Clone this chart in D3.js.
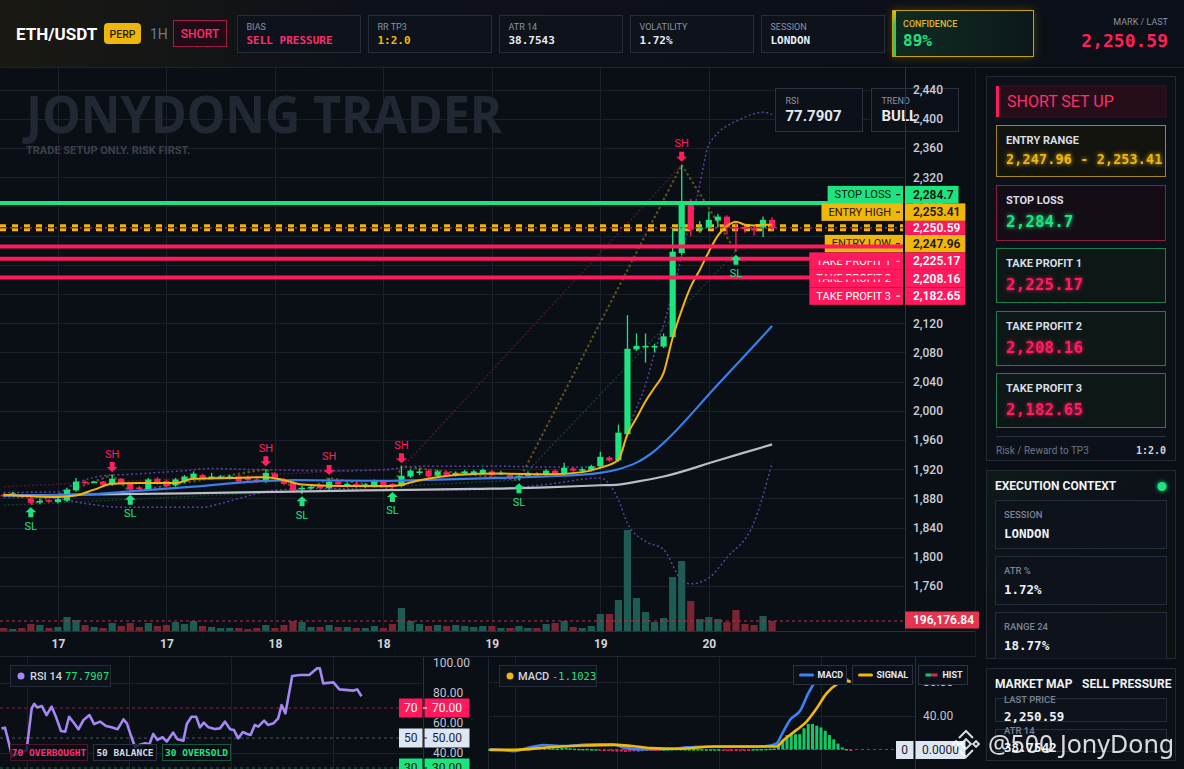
<!DOCTYPE html>
<html>
<head>
<meta charset="utf-8">
<script src="https://cdn.jsdelivr.net/npm/d3@7"></script>
<style>
html,body{margin:0;padding:0;background:#0a0e15;overflow:hidden}
svg{display:block;font-family:Roboto,"Noto Sans",sans-serif}
</style>
</head>
<body>
<svg id="chart" width="1184" height="769"></svg>
<script>
// ---------- data ----------
const opens  = [1885,1886,1884,1880,1875,1877.5,1875,1877,1891,1903, 1902,1903,1899,1907,1900,1895,1892,1907,1904,1898,
                1903,1908,1912,1908,1909,1908,1910,1909,1906,1903, 1914,1906,1901,1894,1894,1897,1894,1903,1897,1900,
                1896,1897,1903,1900,1897,1910,1916,1918,1911,1916, 1912,1914,1914,1914,1917,1914,1912,1908,1911,1914,
                1912,1918,1914,1921,1918,1919,1924,1936,1932,1968, 2084,2088,2088,2088,2101,2216,2287,2248,2251,2260.7,
                2266,2251,2252,2250,2251,2261.6];
const closes = [1884,1887,1883,1874,1876.5,1876.5,1879,1892,1903,1901, 1903,1898.5,1907,1900,1892,1893,1906,1901,1897,1906,
                1910,1914,1908,1910,1910,1910,1903,1905,1903,1915, 1908,1900,1891,1894.5,1896,1894,1903,1899,1900,1896,
                1899,1904,1897,1897,1911,1918,1917,1910,1917,1912, 1915,1917,1917,1919,1912,1915,1909,1911,1915,1911,
                1918,1914,1922,1918,1920,1924,1937,1932,1970,2085, 2089,2089,2089,2102,2218,2284,2248,2251,2261.6,2266,
                2251,2249,2249,2247,2261.6,2250.59];
const highs  = [1887,1889,1886,1882,1880,1879,1881,1894,1908,1905, 1904,1904,1912,1908,1901,1897,1908,1909,1906,1908,
                1912,1917,1914,1915,1912,1912,1912,1911,1908,1920, 1916,1908,1903,1897,1898,1899,1908,1905,1902,1902,
                1901,1906,1905,1901,1924,1920,1921,1920,1919,1918, 1917,1919,1919,1921,1919,1918,1914,1913,1917,1916,
                1920,1920,1929,1923,1922,1926,1944,1938,1981,2131, 2106,2106,2092,2106,2248,2337,2290,2260,2273,2270,
                2268,2259,2256,2253,2266,2265];
const lows   = [1882,1884,1881,1872,1872,1874,1873,1875,1889,1899, 1901,1897,1897,1899,1889,1891,1890,1899,1895,1896,
                1901,1906,1906,1906,1907,1906,1902,1903,1901,1901, 1906,1898,1888,1887,1892,1892,1892,1897,1895,1894,
                1894,1895,1895,1893,1895,1908,1912,1908,1909,1910, 1910,1912,1912,1912,1910,1912,1907,1905,1909,1909,
                1910,1912,1912,1916,1916,1917,1922,1930,1930,1966, 2082,2066,2080,2086,2099,2213,2239,2244,2248,2251,
                2242,2218,2244,2240,2238,2247];
const volumeK = [59,39,59,137,118,59,78,274,216,118, 78,59,157,98,157,78,157,98,118,176,
                 137,196,98,78,59,59,59,39,59,118, 59,118,196,176,78,78,118,78,78,59,
                 59,98,59,137,451,196,137,98,118,98, 118,98,78,98,98,59,59,98,59,59,
                 137,157,196,78,59,98,333,333,608,1980, 647,372,176,255,1058,1372,588,235,274,235,
                 176,412,137,118,294,196];
const volumeMA = 196.17684;

const emaFast = [[0,1885],[6,1882],[8,1884],[10,1892],[12,1900],[15,1901],[19,1901],[21,1907],[25,1908],[29,1909],
                 [31,1905],[33,1899],[37,1897],[40,1897],[43,1897],[46,1905],[50,1912],[55,1914],[60,1913],[64,1916],
                 [66,1922],[67,1926],[68,1933],[69,1968],[70,1990],[71,2013],[72,2032],[73,2052],[74,2100],[75,2138],
                 [76,2170],[77,2193],[78,2218],[79,2240],[80,2253],[81,2259],[82,2255],[83,2254],[84,2255],[85,2255]];
const emaMid  = [[0,1884],[7,1885],[10,1886],[14,1889.5],[21,1896],[29,1904],[32,1905],[42,1904],[46,1905],[55,1908],
                 [60,1910],[66,1915],[68,1920],[70,1929],[71,1936],[72,1945],[73,1956],[79,2036],[85,2116]];
const emaSlow = [[0,1884],[20,1887],[40,1891],[52,1893],[60,1895],[66,1898],[68,1899],[70,1903],[73,1910],[79,1932],[85,1954]];
const bandUpper = [[0,1888],[6,1889],[8,1901],[11,1911],[14,1913],[20,1918],[23,1921],[26,1920],[30,1919],[34,1918],
                   [38,1918],[42,1919],[44,1922],[46,1924],[55,1924],[60,1923],[66,1923],[68,1933],[69.5,1988],[71,2036],
                   [72.2,2088],[73.1,2122],[74.8,2202],[75.7,2248],[76.7,2293],[78.1,2367],[81.8,2401],[84,2409],[85,2406]];
const bandLower = [[0,1882],[6,1880],[9,1873],[13,1868],[22,1868],[24,1873],[26,1880],[30,1891],[35,1894],[40,1892],
                   [44,1892],[52,1892],[60,1899],[66,1908],[68,1878],[69,1846],[71,1821],[73,1810],[75,1768],[76,1763],
                   [78,1771],[80,1799],[83,1847],[85,1929]];
const trendHigh = [[0,1896],[44,1921],[75,2337]];
const trendLow  = [[0,1871],[3,1872],[57,1905],[81,2218]];

const swingHighIdx = [12, 29, 36, 44, 75];
const swingLowIdx  = [3, 14, 33, 43, 57, 81];

const priceTicks = d3.range(1760, 2441, 40);
const timeTickIdx = [6, 18, 30, 42, 54, 66, 78];
const timeTickLabels = ["17", "17", "18", "18", "19", "19", "20"];

const levelNames  = ["STOP LOSS", "ENTRY HIGH", "ENTRY LOW", "TAKE PROFIT 1", "TAKE PROFIT 2", "TAKE PROFIT 3"];
const levelPrices = [2284.7, 2253.41, 2247.96, 2225.17, 2208.16, 2182.65];
const levelKinds  = ["sl", "entry", "entry", "tp", "tp", "tp"];
const lastPrice = 2250.59;

const rsiPoints = [[0,56.4],[0.8,56.9],[1.4,50.5],[2.5,37.6],[3.6,39.1],[4.7,40.9],[5.9,41.6],[7.1,69.8],[7.7,72.7],[8.4,70.4],
  [9.5,71.3],[10.6,65.3],[11.8,70.9],[12.8,64.2],[14,54.7],[15,54.2],[15.9,64.2],[17.1,59.8],[18.1,55.8],[19.3,62],
  [20.7,65.3],[21.8,59.3],[23.2,60.9],[24.6,58],[25.9,57.1],[27.3,55.8],[28.7,62.4],[29.5,59.8],[30.5,51.3],[31.4,44.2],
  [32.4,45.3],[33.8,46.5],[34.8,45.8],[35.7,52.7],[36.7,48.7],[37.9,50.5],[38.9,47.6],[40.4,53.6],[41.4,49.1],[42.8,48.2],
  [43.6,59.3],[44.7,64.2],[45.8,64.2],[46.7,57.1],[47.6,60.2],[48.7,57.1],[50.2,56],[51.4,56.4],[52.6,60.9],[53.8,55.8],
  [54.7,55.3],[55.7,49.8],[56.8,54],[57.8,52.7],[58.6,52],[59.6,58.7],[60.4,57.6],[61.8,61.6],[62.7,58.7],[64,59.8],
  [65.1,63.1],[65.9,72],[66.8,66.4],[68.4,91.3],[70.2,92],[72.4,92],[74.2,96.4],[74.9,96.4],[75.7,86.4],[78.1,87.1],
  [79.5,82.4],[82.8,81.6],[83.7,82.4],[84.7,77.8]];
const rsiTicks = [100, 80, 60, 40];

const macdLine = [[0,0.2],[3,-0.5],[5.6,-2],[9.5,2.5],[12.7,5.3],[17.4,4.1],[21.3,5.3],[25.2,6],[29.1,6],[31.5,2.5],
  [35.4,0.2],[39.3,0.5],[43.3,0.8],[46.4,2.5],[49.5,3.3],[54.2,3.3],[60.5,3.3],[65.2,4.1],[67.6,7.2],[68.7,17],
  [70.7,34.7],[73.2,46.5],[75,66],[77,81.8],[79.3,87.6],[82.5,86.5],[84.8,79.8]];
const macdSignal = [[0,-0.4],[6,-0.4],[14,2.7],[22,4.7],[30,5.5],[38,1.6],[44,0.8],[53,3.5],[67.6,3.5],[69.1,10.6],
  [72.3,23.1],[74.6,32.9],[77,48.6],[79.3,66.1],[81.7,76.7],[84,80.6],[85,79.8]];
const macdHist = [0.4,0.2,-0.8,-1.5,-1.8,-1.6,-1.2,-0.6,0.3,0.8, 1.2,1.6,2.0,2.2,1.8,1.5,1.2,1.6,2.0,1.4,
  1.0,0.8,0.6,0.8,0.5,0.3,-0.6,-1.2,-1.8,-2.2, -2.6,-2.4,-2.8,-2.5,-2.2,-2.6,-2.0,-1.6,-1.2,-0.8,
  -0.3,0.2,0.4,0.6,0.8,0.6,0.5,0.4,0.3,0.4, 0.3,0.2,0.3,0.2,0.1,-0.2,-0.8,-1.2,-0.9,-0.6,
  -0.4,-0.2,0.3,0.5,0.6,0.8,1.0,1.2,7,11, 17,19,18,18,25,30,30,28,26,22, 17,12,7,2.5,0.6,-0.5];
const macdTicks = [80, 40];

const statLabels = ["BIAS", "RR TP3", "ATR 14", "VOLATILITY", "SESSION"];
const statValues = ["SELL PRESSURE", "1:2.0", "38.7543", "1.72%", "LONDON"];
const execLabels = ["SESSION", "ATR %", "RANGE 24"];
const execValues = ["LONDON", "1.72%", "18.77%"];

// ---------- setup ----------
const MONO = '"DejaVu Sans Mono","Liberation Mono",monospace';
const UP = "#1ee47f", DN = "#ff1f5e", GOLD = "#efb70c", PINK = "#ff1a5e";
const fmt2 = d3.format(",.2f");

const svg = d3.select("#chart");
const defs = svg.append("defs");

function addGlow(id, sd) {
  const f = defs.append("filter").attr("id", id)
    .attr("x", "-50%").attr("y", "-50%").attr("width", "200%").attr("height", "200%");
  f.append("feGaussianBlur").attr("in", "SourceGraphic").attr("stdDeviation", sd).attr("result", "b");
  const m = f.append("feMerge");
  m.append("feMergeNode").attr("in", "b");
  m.append("feMergeNode").attr("in", "SourceGraphic");
}
addGlow("glow", 2.2);
defs.append("filter").attr("id", "blur6").attr("x", "-30%").attr("y", "-50%").attr("width", "160%").attr("height", "200%")
  .append("feGaussianBlur").attr("stdDeviation", 5);

function box(g, x, y, w, h, fill, stroke, rx) {
  return g.append("rect").attr("x", x).attr("y", y).attr("width", w).attr("height", h)
    .attr("rx", rx || 0).attr("fill", fill).attr("stroke", stroke || "none");
}
function txt(g, x, y, s, o) {
  o = o || {};
  return g.append("text").attr("x", x).attr("y", y)
    .attr("dominant-baseline", "central")
    .attr("text-anchor", o.anchor || "start")
    .attr("font-size", o.size || 11)
    .attr("font-weight", o.weight || 400)
    .attr("font-family", o.mono ? MONO : null)
    .attr("fill", o.color || "#e6eaf0")
    .text(s);
}

svg.append("rect").attr("width", 1184).attr("height", 769).attr("fill", "#0a0e15");

// ---------- header ----------
const hg = defs.append("linearGradient").attr("id", "hdr");
hg.append("stop").attr("offset", 0).attr("stop-color", "#1a1912");
hg.append("stop").attr("offset", 0.3).attr("stop-color", "#0e1119");
hg.append("stop").attr("offset", 1).attr("stop-color", "#0b0f17");
const head = svg.append("g");
head.append("rect").attr("width", 1184).attr("height", 67).attr("fill", "url(#hdr)");

txt(head, 16, 34, "ETH/USDT", {size: 17, weight: 700, color: "#ffffff"});
box(head, 104, 23, 37, 21, GOLD, null, 4);
txt(head, 122.5, 34, "PERP", {size: 10.5, weight: 500, color: "#2a1f00", anchor: "middle"});
txt(head, 150, 34, "1H", {size: 14, color: "#6c7b92"});
box(head, 173.5, 20.5, 53, 26, "#1f0c17", "#a01d48");
txt(head, 200, 34, "SHORT", {size: 12, weight: 500, color: "#ff2d6f", anchor: "middle"});

statLabels.forEach((lab, i) => {
  const bx = 237.5 + i * 131;
  box(head, bx, 15.5, 123, 37, "#0d121b", "#262d3a");
  txt(head, bx + 9, 26.5, lab, {size: 9, color: "#8a93a6"});
  const c = i === 0 ? "#ff2d6f" : (i === 1 ? GOLD : "#e8ecf2");
  txt(head, bx + 9, 40.5, statValues[i], {size: 11, weight: 700, mono: true, color: c});
});

// confidence card
box(head, 892, 10, 142, 47, "#b8940e", null).attr("opacity", 0.35).attr("filter", "url(#blur6)");
const cg = defs.append("linearGradient").attr("id", "confFill").attr("x1", 0).attr("x2", 1);
cg.append("stop").attr("offset", 0).attr("stop-color", "#0f2c22");
cg.append("stop").attr("offset", 1).attr("stop-color", "#0c181b");
box(head, 892.5, 10.5, 141, 46, "url(#confFill)", "#c9a10f");
const cb = defs.append("linearGradient").attr("id", "confBar").attr("x1", 0).attr("x2", 0).attr("y1", 0).attr("y2", 1);
cb.append("stop").attr("offset", 0).attr("stop-color", GOLD);
cb.append("stop").attr("offset", 0.3).attr("stop-color", "#1ed070");
cb.append("stop").attr("offset", 1).attr("stop-color", "#1ed070");
box(head, 893, 11, 3, 45, "url(#confBar)");
txt(head, 903, 23.5, "CONFIDENCE", {size: 9, weight: 500, color: "#e3b72a"});
txt(head, 903, 40, "89%", {size: 16, weight: 700, mono: true, color: UP});

txt(head, 1168, 22, "MARK / LAST", {size: 9, color: "#8a93a6", anchor: "end"});
txt(head, 1168, 40, fmt2(lastPrice), {size: 18, weight: 700, mono: true, color: "#ff1f5a", anchor: "end"});

svg.append("line").attr("x1", 0).attr("x2", 1184).attr("y1", 67.5).attr("y2", 67.5).attr("stroke", "#1d2431");

// ---------- main price chart ----------
const x = d3.scaleLinear().domain([0, 85]).range([3.7, 772.1]);
const y = d3.scaleLinear().domain([1760, 2440]).range([586, 89.6]);
const vol = d3.scaleLinear().domain([0, 2000]).range([631, 529]);

defs.append("clipPath").attr("id", "plotClip")
  .append("rect").attr("x", 0).attr("y", 68).attr("width", 905).attr("height", 563);

const main = svg.append("g");
const plot = main.append("g").attr("clip-path", "url(#plotClip)");

plot.append("g").selectAll("line").data(priceTicks).join("line")
  .attr("x1", 0).attr("x2", 905)
  .attr("y1", d => Math.round(y(d)) + 0.5).attr("y2", d => Math.round(y(d)) + 0.5)
  .attr("stroke", "#1a202c");
plot.append("g").selectAll("line").data(timeTickIdx).join("line")
  .attr("x1", d => Math.round(x(d)) + 0.5).attr("x2", d => Math.round(x(d)) + 0.5)
  .attr("y1", 67).attr("y2", 632)
  .attr("stroke", "#1a202c");

plot.append("text").attr("x", 26).attr("y", 133)
  .attr("font-size", 52).attr("font-weight", 700).attr("font-family", '"Noto Sans",Roboto,sans-serif')
  .attr("fill", "#222833").attr("textLength", 476).attr("lengthAdjust", "spacingAndGlyphs")
  .text("JONYDONG TRADER");
txt(plot, 26, 150, "TRADE SETUP ONLY. RISK FIRST.", {size: 11, weight: 700, color: "#3a414d"});
txt(plot, 425, 632, "FALLEN ANGEL", {size: 13, weight: 700, color: "#272d38"}).attr("letter-spacing", 2.2);

const candles = d3.range(opens.length).map(i => ({
  i, o: opens[i], c: closes[i], h: highs[i], l: lows[i], v: volumeK[i], up: closes[i] >= opens[i]
}));

// volume
plot.append("g").selectAll("rect").data(candles).join("rect")
  .attr("x", d => x(d.i) - 3.6).attr("width", 7.2)
  .attr("y", d => vol(d.v)).attr("height", d => 631 - vol(d.v))
  .attr("fill", d => d.up ? "#1e5b52" : "#7a2632");
plot.append("line").attr("x1", 0).attr("x2", 905)
  .attr("y1", vol(volumeMA)).attr("y2", vol(volumeMA))
  .attr("stroke", "#c0304a").attr("stroke-dasharray", "3,3");

// dotted helper lines
const lineLin = d3.line().x(d => x(d[0])).y(d => y(d[1]));
const lineSmooth = d3.line().x(d => x(d[0])).y(d => y(d[1])).curve(d3.curveMonotoneX);
const swings = swingHighIdx.map(i => [i, highs[i]]).concat(swingLowIdx.map(i => [i, lows[i]]))
  .sort((a, b) => a[0] - b[0]);

plot.append("path").attr("d", lineLin(trendHigh)).attr("fill", "none")
  .attr("stroke", "#4d1a2c").attr("stroke-width", 1.4).attr("stroke-dasharray", "2,2");
plot.append("path").attr("d", lineLin(trendLow)).attr("fill", "none")
  .attr("stroke", "#173f2c").attr("stroke-width", 1.4).attr("stroke-dasharray", "2,2");
plot.append("path").attr("d", lineLin(swings)).attr("fill", "none")
  .attr("stroke", "#5e4f1d").attr("stroke-width", 2.2).attr("stroke-dasharray", "2.5,2.5");
[bandUpper, bandLower].forEach(b => {
  plot.append("path").attr("d", lineSmooth(b)).attr("fill", "none")
    .attr("stroke", "#5644a3").attr("stroke-width", 1.5).attr("stroke-dasharray", "2,2.5");
});

// entry band (dashed gold)
[levelPrices[1], levelPrices[2]].forEach(p => {
  plot.append("line").attr("x1", 0).attr("x2", 903).attr("y1", y(p)).attr("y2", y(p))
    .attr("stroke", GOLD).attr("stroke-width", 3).attr("stroke-dasharray", "6,6");
});

// candles
plot.append("g").selectAll("line").data(candles).join("line")
  .attr("x1", d => x(d.i)).attr("x2", d => x(d.i))
  .attr("y1", d => y(d.h)).attr("y2", d => y(d.l))
  .attr("stroke", d => d.up ? UP : DN).attr("stroke-width", 1.3);
plot.append("g").selectAll("rect").data(candles).join("rect")
  .attr("x", d => x(d.i) - 3.1).attr("width", 6.2)
  .attr("y", d => y(Math.max(d.o, d.c)))
  .attr("height", d => Math.max(1.6, Math.abs(y(d.o) - y(d.c))))
  .attr("fill", d => d.up ? UP : DN);

// moving averages
plot.append("path").attr("d", lineSmooth(emaSlow)).attr("fill", "none").attr("stroke", "#b9bdc6").attr("stroke-width", 2.2);
plot.append("path").attr("d", lineSmooth(emaMid)).attr("fill", "none").attr("stroke", "#3a80ec").attr("stroke-width", 2.2);
plot.append("path").attr("d", lineSmooth(emaFast)).attr("fill", "none").attr("stroke", "#f2b50c").attr("stroke-width", 2);

// stop loss line
plot.append("line").attr("x1", 0).attr("x2", 903).attr("y1", y(levelPrices[0])).attr("y2", y(levelPrices[0]))
  .attr("stroke", UP).attr("stroke-width", 4);

// stacked level labels
const kindStyle = {
  sl: {fill: UP, text: "#04140b"},
  entry: {fill: GOLD, text: "#1c1500"},
  tp: {fill: PINK, text: "#ffffff"}
};
const levels = levelNames.map((n, i) => ({name: n, price: levelPrices[i], kind: levelKinds[i]}));
const LH = 17.5, LASTH = 14, lastY = y(lastPrice);
let prevY = lastY, prevH = LASTH;
levels.filter(d => d.price > lastPrice).sort((a, b) => a.price - b.price).forEach(d => {
  d.ly = Math.min(y(d.price), prevY - (prevH + LH) / 2); prevY = d.ly; prevH = LH;
});
prevY = lastY; prevH = LASTH;
levels.filter(d => d.price < lastPrice).sort((a, b) => b.price - a.price).forEach(d => {
  d.ly = Math.max(y(d.price), prevY + (prevH + LH) / 2); prevY = d.ly; prevH = LH;
});

const labG = main.append("g");
levels.forEach(d => {
  const st = kindStyle[d.kind];
  const r = box(labG, 0, d.ly - LH / 2, 0, LH, st.fill);
  const t = txt(labG, 891, d.ly, d.name, {size: 11, color: st.text, anchor: "end"});
  const w = t.node().getComputedTextLength();
  r.attr("x", 891 - w - 7).attr("width", w + 19);
  labG.append("line").attr("x1", 896).attr("x2", 900).attr("y1", d.ly).attr("y2", d.ly)
    .attr("stroke", st.text).attr("stroke-width", 1.2);
});

// take-profit lines drawn over the labels
levels.filter(d => d.kind === "tp").forEach(d => {
  main.append("line").attr("x1", 0).attr("x2", 903).attr("y1", y(d.price)).attr("y2", y(d.price))
    .attr("stroke", PINK).attr("stroke-width", 4);
});
main.append("line").attr("x1", 0).attr("x2", 903).attr("y1", lastY).attr("y2", lastY)
  .attr("stroke", PINK).attr("stroke-width", 1.3).attr("stroke-dasharray", "2,3");

// swing markers
const mk = main.append("g");
swingHighIdx.forEach(i => {
  const cx = x(i), ty = y(highs[i]) - 3;
  mk.append("path")
    .attr("d", `M${cx - 2.5},${ty - 10}h5v5h3L${cx},${ty}L${cx - 5.5},${ty - 5}h3Z`)
    .attr("fill", DN);
  txt(mk, cx, ty - 18, "SH", {size: 11, color: DN, anchor: "middle"});
});
swingLowIdx.forEach(i => {
  const cx = x(i), ty = y(lows[i]) + 3;
  mk.append("path")
    .attr("d", `M${cx - 2.5},${ty + 10}h5v-5h3L${cx},${ty}L${cx - 5.5},${ty + 5}h3Z`)
    .attr("fill", UP);
  txt(mk, cx, ty + 19, "SL", {size: 11, color: UP, anchor: "middle"});
});

// RSI / TREND overlay cards
[["RSI", "77.7907", 775.5], ["TREND", "BULL", 871.5]].forEach(([l, v, bx]) => {
  box(main, bx, 88.5, 87, 43, "#0b1019", "#2a3140");
  txt(main, bx + 10, 100.5, l, {size: 9, color: "#8a93a6"});
  txt(main, bx + 10, 116, v, {size: 15, weight: 700, color: "#e6eaf0"});
});

// axes
main.append("line").attr("x1", 905.5).attr("x2", 905.5).attr("y1", 67).attr("y2", 632).attr("stroke", "#283040");
main.append("line").attr("x1", 975.5).attr("x2", 975.5).attr("y1", 67).attr("y2", 656).attr("stroke", "#161c27");
main.append("line").attr("x1", 0).attr("x2", 975).attr("y1", 631.5).attr("y2", 631.5).attr("stroke", "#283040");

const yAxis = d3.axisRight(y).tickValues(priceTicks).tickFormat(d3.format(",")).tickSize(0).tickPadding(8);
main.append("g").attr("transform", "translate(905,0)").call(yAxis)
  .call(g => g.select(".domain").remove())
  .call(g => g.selectAll("text").attr("fill", "#c9ced8").attr("font-size", 12)
    .attr("font-family", "Roboto,sans-serif").attr("font-weight", 500));

const xAxis = d3.axisBottom(x).tickValues(timeTickIdx).tickFormat((d, i) => timeTickLabels[i]).tickSize(0).tickPadding(7);
main.append("g").attr("transform", "translate(0,632)").call(xAxis)
  .call(g => g.select(".domain").remove())
  .call(g => g.selectAll("text").attr("fill", "#d0d4dc").attr("font-size", 12)
    .attr("font-family", "Roboto,sans-serif").attr("font-weight", 700));

// price boxes on the axis
function priceBox(g, cy, h, fill, color, s) {
  const r = box(g, 905, cy - h / 2, 0, h, fill);
  const t = txt(g, 913, cy, s, {size: 12, weight: 600, color: color});
  r.attr("width", t.node().getComputedTextLength() + 13);
}
levels.forEach(d => {
  const st = kindStyle[d.kind];
  priceBox(main, d.ly, LH, st.fill, st.text, d.kind === "sl" ? d3.format(",.1f")(d.price) : fmt2(d.price));
});
priceBox(main, lastY, LASTH, PINK, "#ffffff", fmt2(lastPrice));
priceBox(main, vol(volumeMA) - 1, 17, "#e5344f", "#ffffff", fmt2(volumeMA * 1000));

// ---------- lower panes ----------
const low = svg.append("g");
low.append("line").attr("x1", 0).attr("x2", 976).attr("y1", 656.5).attr("y2", 656.5).attr("stroke", "#1f2633");

// RSI pane
const rx = d3.scaleLinear().domain([0, 85]).range([1.5, 362.75]);
const ry = d3.scaleLinear().domain([40, 100]).range([753, 663]);
const rsiG = low.append("g");
rsiG.selectAll(".vg").data([6, 30, 54, 78]).join("line")
  .attr("x1", d => Math.round(rx(d)) + 0.5).attr("x2", d => Math.round(rx(d)) + 0.5)
  .attr("y1", 657).attr("y2", 769).attr("stroke", "#1a202c");
rsiG.selectAll(".hg").data([86.7, 40]).join("line")
  .attr("x1", 0).attr("x2", 423).attr("y1", d => Math.round(ry(d)) + 0.5).attr("y2", d => Math.round(ry(d)) + 0.5)
  .attr("stroke", "#1a202c");
[[70, "#8a1f3f"], [50, "#4e5564"], [30, "#17683f"]].forEach(([v, c]) => {
  rsiG.append("line").attr("x1", 0).attr("x2", 423).attr("y1", ry(v)).attr("y2", ry(v))
    .attr("stroke", c).attr("stroke-dasharray", "3,3");
});
rsiG.append("path").attr("d", d3.line().x(d => rx(d[0])).y(d => ry(d[1]))(rsiPoints))
  .attr("fill", "none").attr("stroke", "#a487f2").attr("stroke-width", 2.6).attr("stroke-linejoin", "round");
rsiG.append("line").attr("x1", 423.5).attr("x2", 423.5).attr("y1", 657).attr("y2", 769).attr("stroke", "#283040");
rsiG.append("g").attr("transform", "translate(423,0)")
  .call(d3.axisRight(ry).tickValues(rsiTicks).tickFormat(d3.format(".2f")).tickSize(0).tickPadding(10))
  .call(g => g.select(".domain").remove())
  .call(g => g.selectAll("text").attr("fill", "#c0c6d0").attr("font-size", 12).attr("font-family", "Roboto,sans-serif"));

// RSI legend
box(rsiG, 10.5, 665.5, 100, 21, "#0d121b", "#252c3a");
rsiG.append("circle").attr("cx", 21).attr("cy", 676).attr("r", 3.5).attr("fill", "#a487f2");
txt(rsiG, 30, 676, "RSI 14", {size: 11, weight: 500, color: "#d4d8e0"});
txt(rsiG, 65, 676, "77.7907", {size: 10.5, mono: true, color: UP});
[["70 OVERBOUGHT", 10.5, 77, "#ff2d6f", "#4a1628"], ["50 BALANCE", 93.5, 63, "#d4d8e0", "#2a3140"],
 ["30 OVERSOLD", 162.5, 68, UP, "#19573a"]].forEach(([s, bx, w, c, sc]) => {
  box(rsiG, bx, 744.5, w, 16, "rgba(10,14,21,0.8)", sc);
  txt(rsiG, bx + w / 2, 752.5, s, {size: 9.5, weight: 700, mono: true, color: c, anchor: "middle"});
});
[[70, PINK, "#ffffff"], [50, "#dde6f3", "#1a2230"], [30, UP, "#04140b"]].forEach(([v, f, c]) => {
  const cy = ry(v);
  box(rsiG, 399, cy - 9.5, 23.5, 19, f);
  txt(rsiG, 410.7, cy, String(v), {size: 12, color: c, anchor: "middle"});
  box(rsiG, 424.5, cy - 9.5, 45, 19, f);
  txt(rsiG, 447, cy, d3.format(".2f")(v), {size: 12, color: c, anchor: "middle"});
  rsiG.append("line").attr("x1", 423).attr("x2", 427).attr("y1", cy).attr("y2", cy).attr("stroke", c);
});

// MACD pane
const mx = d3.scaleLinear().domain([0, 85]).range([489.5, 850.75]);
const my = d3.scaleLinear().domain([0, 80]).range([749.5, 681.5]);
const macdG = low.append("g");
macdG.append("line").attr("x1", 488.5).attr("x2", 488.5).attr("y1", 657).attr("y2", 769).attr("stroke", "#1f2633");
macdG.selectAll(".vg").data([6, 30, 54, 78]).join("line")
  .attr("x1", d => Math.round(mx(d)) + 0.5).attr("x2", d => Math.round(mx(d)) + 0.5)
  .attr("y1", 657).attr("y2", 769).attr("stroke", "#1a202c");
macdG.selectAll(".hg").data(macdTicks).join("line")
  .attr("x1", 489).attr("x2", 915).attr("y1", d => Math.round(my(d)) + 0.5).attr("y2", d => Math.round(my(d)) + 0.5)
  .attr("stroke", "#1a202c");
macdG.append("line").attr("x1", 489).attr("x2", 896).attr("y1", my(0)).attr("y2", my(0))
  .attr("stroke", "#4e5564").attr("stroke-dasharray", "3,3");
macdG.selectAll(".hb").data(macdHist).join("rect")
  .attr("x", (d, i) => mx(i) - 1.5).attr("width", 3)
  .attr("y", d => Math.min(my(d), my(0))).attr("height", d => Math.max(1.5, Math.abs(my(d) - my(0))))
  .attr("fill", d => d >= 0 ? "#14c766" : "#e0245a");
const mline = d3.line().x(d => mx(d[0])).y(d => my(d[1])).curve(d3.curveMonotoneX);
macdG.append("path").attr("d", mline(macdLine)).attr("fill", "none").attr("stroke", "#3b82f6").attr("stroke-width", 2.6);
macdG.append("path").attr("d", mline(macdSignal)).attr("fill", "none").attr("stroke", "#f0b90b").attr("stroke-width", 2.6);
macdG.append("line").attr("x1", 915.5).attr("x2", 915.5).attr("y1", 657).attr("y2", 769).attr("stroke", "#283040");
macdG.append("g").attr("transform", "translate(915,0)")
  .call(d3.axisRight(my).tickValues(macdTicks).tickFormat(d3.format(".2f")).tickSize(0).tickPadding(8))
  .call(g => g.select(".domain").remove())
  .call(g => g.selectAll("text").attr("fill", "#c0c6d0").attr("font-size", 12).attr("font-family", "Roboto,sans-serif"));

box(macdG, 499.5, 665.5, 97, 21, "#0d121b", "#252c3a");
macdG.append("circle").attr("cx", 510).attr("cy", 676).attr("r", 3.5).attr("fill", GOLD);
txt(macdG, 518, 676, "MACD", {size: 11, weight: 500, color: "#d4d8e0"});
txt(macdG, 552, 676, "-1.1023", {size: 10.5, mono: true, color: UP});
[["MACD", 793.5, 53, "#3b82f6"], ["SIGNAL", 852.5, 60, GOLD], ["HIST", 918.5, 49, null]].forEach(([s, bx, w, c]) => {
  box(macdG, bx, 665.5, w, 19, "#0b1019", "#2a3140");
  if (c) {
    macdG.append("line").attr("x1", bx + 7).attr("x2", bx + 19).attr("y1", 675).attr("y2", 675)
      .attr("stroke", c).attr("stroke-width", 3).attr("stroke-linecap", "round");
  } else {
    macdG.append("line").attr("x1", bx + 7).attr("x2", bx + 13).attr("y1", 675).attr("y2", 675).attr("stroke", "#14c766").attr("stroke-width", 3);
    macdG.append("line").attr("x1", bx + 13).attr("x2", bx + 19).attr("y1", 675).attr("y2", 675).attr("stroke", "#e0245a").attr("stroke-width", 3);
  }
  txt(macdG, bx + 24, 675, s, {size: 9, weight: 700, color: "#e6eaf0"});
});
box(macdG, 896, 741, 17.5, 18, "#dde6f3");
txt(macdG, 904.7, 750, "0", {size: 12, color: "#1a2230", anchor: "middle"});
box(macdG, 915.5, 741, 50, 18, "#dde6f3");
txt(macdG, 940.5, 750, "0.0000", {size: 12, color: "#1a2230", anchor: "middle"});

// ---------- right side panels ----------
const side = svg.append("g");
box(side, 986.5, 76.5, 189, 384, "#0c1119", "#232a36");
box(side, 996, 86, 170, 31, "#260d1a", "#3a1424");
box(side, 996, 86, 3, 31, PINK);
txt(side, 1007, 101.5, "SHORT SET UP", {size: 16, color: "#ff2d6f"});

const cards = [
  {label: "ENTRY RANGE", value: fmt2(levelPrices[2]) + " - " + fmt2(levelPrices[1]), top: 125.5, h: 51,
   stroke: "#a8870f", fill: "#14140f", color: GOLD, size: 13.7},
  {label: levelNames[0], value: d3.format(",.1f")(levelPrices[0]), top: 185.5, h: 55,
   stroke: "#8c1c40", fill: "#150d16", color: UP, size: 16},
  {label: levelNames[3], value: fmt2(levelPrices[3]), top: 248.5, h: 54, stroke: "#1b7f4c", fill: "#0c1716", color: PINK, size: 16},
  {label: levelNames[4], value: fmt2(levelPrices[4]), top: 311.5, h: 54, stroke: "#1b7f4c", fill: "#0c1716", color: PINK, size: 16},
  {label: levelNames[5], value: fmt2(levelPrices[5]), top: 373.5, h: 54, stroke: "#1b7f4c", fill: "#0c1716", color: PINK, size: 16}
];
cards.forEach(c => {
  box(side, 996.5, c.top, 169, c.h, c.fill, c.stroke);
  txt(side, 1006, c.top + 14.5, c.label, {size: 11, weight: 700, color: "#d8dde6"});
  txt(side, 1006, c.top + (c.size > 14 ? 36 : 33.5), c.value, {size: c.size, weight: 700, mono: true, color: c.color})
    .attr("filter", "url(#glow)");
});
side.append("line").attr("x1", 996).attr("x2", 1166).attr("y1", 436.5).attr("y2", 436.5).attr("stroke", "#2a3140");
txt(side, 996, 450, "Risk / Reward to TP3", {size: 10, color: "#6b7588"});
txt(side, 1166, 450, "1:2.0", {size: 10, weight: 700, mono: true, color: "#d0d4dc", anchor: "end"});

// execution context
const eg = defs.append("linearGradient").attr("id", "execFill").attr("x1", 0).attr("x2", 1).attr("y1", 0).attr("y2", 1);
eg.append("stop").attr("offset", 0).attr("stop-color", "#0f1a18");
eg.append("stop").attr("offset", 0.5).attr("stop-color", "#0c1119");
eg.append("stop").attr("offset", 1).attr("stop-color", "#0e120f");
box(side, 986.5, 470.5, 189, 188, "url(#execFill)", "#232a36");
txt(side, 995, 486, "EXECUTION CONTEXT", {size: 12, weight: 700, color: "#f0f2f6"});
side.append("circle").attr("cx", 1162).attr("cy", 486.5).attr("r", 4.5).attr("fill", UP).attr("filter", "url(#glow)");
defs.append("clipPath").attr("id", "execClip").append("rect").attr("x", 986).attr("y", 470).attr("width", 190).attr("height", 188.5);
const execG = side.append("g").attr("clip-path", "url(#execClip)");
execLabels.forEach((lab, i) => {
  const top = 500.5 + i * 56;
  box(execG, 995.5, top, 171, 48, "#0d121b", "#252c3a");
  txt(execG, 1004, top + 13.5, lab, {size: 9.5, weight: 500, color: "#7a8496"});
  txt(execG, 1004, top + 32.5, execValues[i], {size: 12.5, weight: 700, mono: true, color: "#eef1f5"});
});

// market map
box(side, 986.5, 668.5, 189, 92, "#0c1119", "#232a36");
txt(side, 995, 683.5, "MARKET MAP", {size: 12, weight: 700, color: "#f0f2f6"});
txt(side, 1082, 683.5, "SELL PRESSURE", {size: 12, weight: 700, color: "#f0f2f6"});
[["LAST PRICE", fmt2(lastPrice), 698.5, 23], ["ATR 14", "38.7542", 729.5, 22]].forEach(([l, v, top, h]) => {
  box(side, 995.5, top, 171, h, "#0d121b", "#252c3a");
  txt(side, 1004, top + 0.5, l, {size: 9.5, weight: 500, color: "#7a8496"});
  txt(side, 1004, top + 18, v, {size: 12.5, weight: 700, mono: true, color: "#eef1f5"});
});

// watermark
const wm = svg.append("g").attr("opacity", 0.85);
const ic = wm.append("g").attr("transform", "translate(966,744)").attr("fill", "none")
  .attr("stroke", "#ffffff").attr("stroke-width", 2);
ic.append("rect").attr("x", -3.5).attr("y", -3.5).attr("width", 7).attr("height", 7).attr("transform", "rotate(45)");
ic.append("rect").attr("x", -2).attr("y", -2).attr("width", 4).attr("height", 4).attr("transform", "translate(-10,0) rotate(45)");
ic.append("rect").attr("x", -2).attr("y", -2).attr("width", 4).attr("height", 4).attr("transform", "translate(10,0) rotate(45)");
ic.append("path").attr("d", "M-7,-6L0,-13L7,-6");
ic.append("path").attr("d", "M-7,6L0,13L7,6");
txt(wm, 988, 743, "@500 JonyDong", {size: 25, color: "#ffffff"}).attr("font-family", '"Noto Sans",sans-serif');
</script>
</body>
</html>
